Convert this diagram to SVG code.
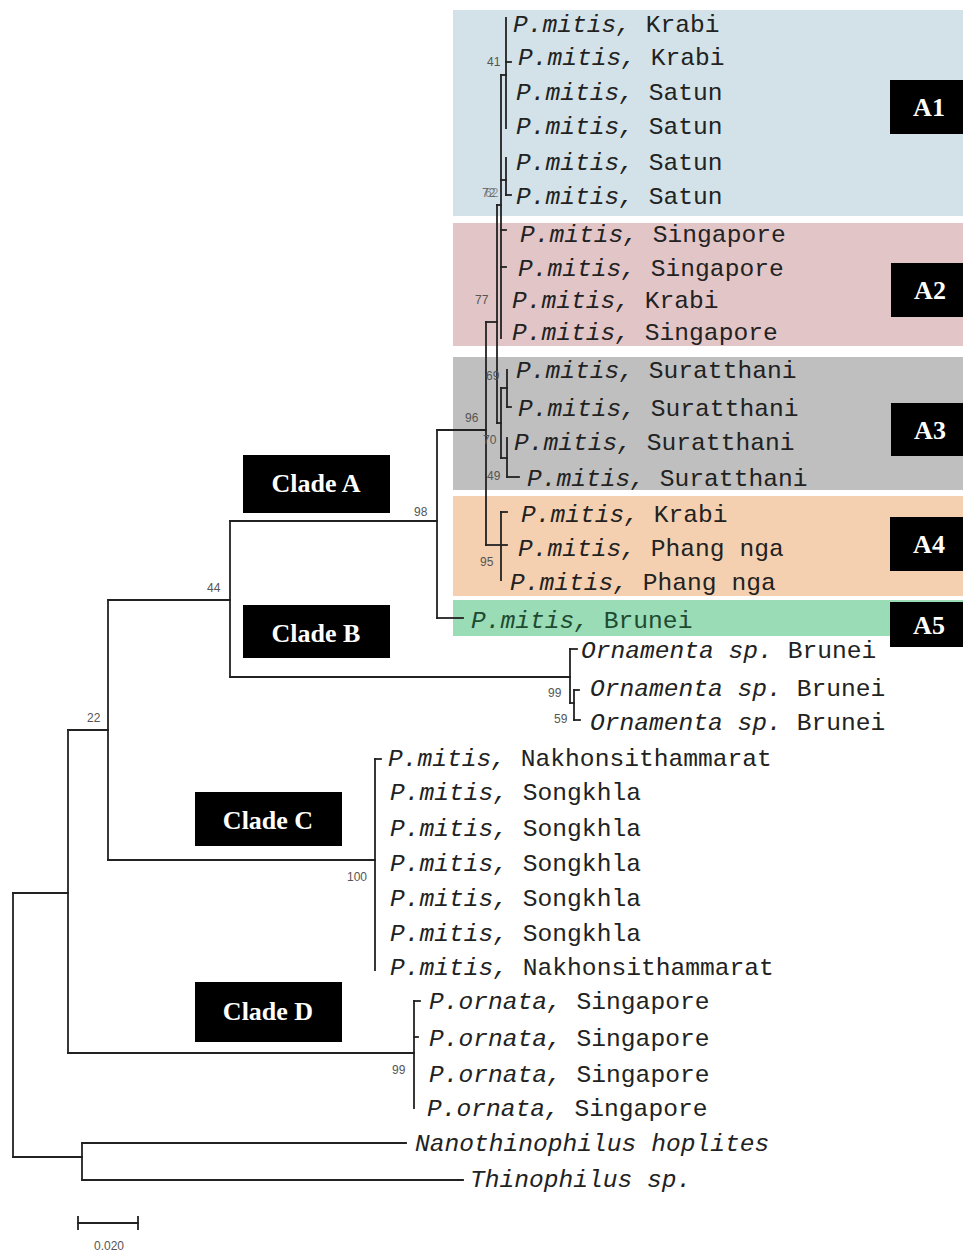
<svg xmlns="http://www.w3.org/2000/svg" width="963" height="1253" viewBox="0 0 963 1253">
  <style>
    .leaf { font-family: "Liberation Mono", "Courier New", monospace; font-size: 24.6px; fill: #222; }
    .sp { font-style: italic; }
    .boot { font-family: "Liberation Sans", Arial, sans-serif; font-size: 12px; fill: #555; }
    .tag rect { fill: #000; }
    .tag text { font-family: "Liberation Serif", "Times New Roman", serif; font-weight: bold; font-size: 26px; fill: #fff; text-anchor: middle; }
    .edges line { stroke: #222; stroke-width: 1.8; stroke-linecap: square; }
  </style>

  <rect width="963" height="1253" fill="#fff"/>

  <!-- subclade shading -->
  <g id="shading">
    <rect x="453" y="10" width="510" height="206" fill="#d2e2e8"/>
    <rect x="453" y="223" width="510" height="123" fill="#e2c5c7"/>
    <rect x="453" y="357" width="510" height="133" fill="#bfbfbf"/>
    <rect x="453" y="496" width="510" height="100" fill="#f5d0b0"/>
    <rect x="453" y="600" width="510" height="36" fill="#99dcb5"/>
  </g>

  <!-- tree branches -->
  <g id="connectors" class="edges">
    <!-- root and outgroup -->
    <line x1="13" y1="893" x2="13" y2="1157"/>
    <line x1="13" y1="893" x2="68" y2="893"/>
    <line x1="13" y1="1157" x2="82" y2="1157"/>
    <line x1="82" y1="1143" x2="82" y2="1180"/>
    <line x1="82" y1="1143" x2="406" y2="1143"/>
    <line x1="82" y1="1180" x2="463" y2="1180"/>
    <!-- node 22 -->
    <line x1="68" y1="730" x2="68" y2="1053"/>
    <line x1="68" y1="730" x2="108" y2="730"/>
    <line x1="68" y1="1053" x2="414" y2="1053"/>
    <!-- clade D -->
    <line x1="414" y1="1001" x2="414" y2="1108"/>
    <line x1="414" y1="1001" x2="420" y2="1001"/>
    <line x1="414" y1="1037" x2="418" y2="1037"/>
    <!-- node 44 -->
    <line x1="108" y1="600" x2="108" y2="860"/>
    <line x1="108" y1="600" x2="230" y2="600"/>
    <line x1="108" y1="860" x2="375" y2="860"/>
    <!-- clade C -->
    <line x1="375" y1="759" x2="375" y2="970"/>
    <line x1="375" y1="759" x2="381" y2="759"/>
    <!-- clades A / B -->
    <line x1="230" y1="521" x2="230" y2="677"/>
    <line x1="230" y1="521" x2="437" y2="521"/>
    <line x1="230" y1="677" x2="570" y2="677"/>
    <!-- clade B -->
    <line x1="570" y1="649" x2="570" y2="703"/>
    <line x1="570" y1="649" x2="577" y2="649"/>
    <line x1="570" y1="703" x2="574" y2="703"/>
    <line x1="574" y1="690" x2="574" y2="720"/>
    <line x1="574" y1="690" x2="579" y2="690"/>
    <line x1="574" y1="720" x2="580" y2="720"/>
    <!-- clade A -->
    <line x1="437" y1="430" x2="437" y2="618"/>
    <line x1="437" y1="430" x2="486" y2="430"/>
    <line x1="437" y1="618" x2="463" y2="618"/>
    <line x1="486" y1="322" x2="486" y2="545"/>
    <line x1="486" y1="322" x2="497" y2="322"/>
    <line x1="497" y1="205" x2="497" y2="423"/>
    <line x1="497" y1="205" x2="501" y2="205"/>
    <!-- A1 / A2 -->
    <line x1="501" y1="75" x2="501" y2="338"/>
    <line x1="501" y1="75" x2="506" y2="75"/>
    <line x1="506" y1="18" x2="506" y2="128"/>
    <line x1="506" y1="62" x2="511" y2="62"/>
    <line x1="501" y1="180" x2="506" y2="180"/>
    <line x1="506" y1="158" x2="506" y2="195"/>
    <line x1="506" y1="195" x2="511" y2="195"/>
    <line x1="501" y1="230" x2="506" y2="230"/>
    <line x1="501" y1="267" x2="506" y2="267"/>
    <!-- A3 -->
    <line x1="497" y1="423" x2="501" y2="423"/>
    <line x1="501" y1="388" x2="501" y2="458"/>
    <line x1="501" y1="388" x2="507" y2="388"/>
    <line x1="507" y1="370" x2="507" y2="407"/>
    <line x1="507" y1="407" x2="511" y2="407"/>
    <line x1="501" y1="458" x2="507" y2="458"/>
    <line x1="507" y1="438" x2="507" y2="477"/>
    <line x1="507" y1="477" x2="519" y2="477"/>
    <!-- A4 -->
    <line x1="486" y1="545" x2="507" y2="545"/>
    <line x1="501" y1="512" x2="501" y2="580"/>
    <line x1="501" y1="512" x2="507" y2="512"/>
    <!-- scale bar -->
    <line x1="78" y1="1223" x2="138" y2="1223"/>
    <line x1="78" y1="1217" x2="78" y2="1229"/>
    <line x1="138" y1="1217" x2="138" y2="1229"/>
  </g>

  <!-- bootstrap values -->
  <g id="support" class="boot">
    <text x="487" y="66">41</text>
    <text x="482" y="197" fill-opacity="0.8">72</text>
    <text x="485" y="197" fill-opacity="0.6">62</text>
    <text x="475" y="304">77</text>
    <text x="486" y="380">69</text>
    <text x="465" y="422">96</text>
    <text x="483" y="444">70</text>
    <text x="487" y="480">49</text>
    <text x="480" y="566">95</text>
    <text x="414" y="516">98</text>
    <text x="207" y="592">44</text>
    <text x="87" y="722">22</text>
    <text x="347" y="881">100</text>
    <text x="548" y="697">99</text>
    <text x="554" y="723">59</text>
    <text x="392" y="1074">99</text>
    <text x="109" y="1250" text-anchor="middle">0.020</text>
  </g>

  <!-- leaves -->
  <g id="leaf-01" class="leaf"><text x="513" y="32"><tspan class="sp">P.mitis,</tspan> Krabi</text></g>
  <g id="leaf-02" class="leaf"><text x="518" y="65"><tspan class="sp">P.mitis,</tspan> Krabi</text></g>
  <g id="leaf-03" class="leaf"><text x="516" y="100"><tspan class="sp">P.mitis,</tspan> Satun</text></g>
  <g id="leaf-04" class="leaf"><text x="516" y="134"><tspan class="sp">P.mitis,</tspan> Satun</text></g>
  <g id="leaf-05" class="leaf"><text x="516" y="170"><tspan class="sp">P.mitis,</tspan> Satun</text></g>
  <g id="leaf-06" class="leaf"><text x="516" y="204"><tspan class="sp">P.mitis,</tspan> Satun</text></g>
  <g id="leaf-07" class="leaf"><text x="520" y="242"><tspan class="sp">P.mitis,</tspan> Singapore</text></g>
  <g id="leaf-08" class="leaf"><text x="518" y="276"><tspan class="sp">P.mitis,</tspan> Singapore</text></g>
  <g id="leaf-09" class="leaf"><text x="512" y="308"><tspan class="sp">P.mitis,</tspan> Krabi</text></g>
  <g id="leaf-10" class="leaf"><text x="512" y="340"><tspan class="sp">P.mitis,</tspan> Singapore</text></g>
  <g id="leaf-11" class="leaf"><text x="516" y="378"><tspan class="sp">P.mitis,</tspan> Suratthani</text></g>
  <g id="leaf-12" class="leaf"><text x="518" y="416"><tspan class="sp">P.mitis,</tspan> Suratthani</text></g>
  <g id="leaf-13" class="leaf"><text x="514" y="450"><tspan class="sp">P.mitis,</tspan> Suratthani</text></g>
  <g id="leaf-14" class="leaf"><text x="527" y="486"><tspan class="sp">P.mitis,</tspan> Suratthani</text></g>
  <g id="leaf-15" class="leaf"><text x="521" y="522"><tspan class="sp">P.mitis,</tspan> Krabi</text></g>
  <g id="leaf-16" class="leaf"><text x="518" y="556"><tspan class="sp">P.mitis,</tspan> Phang nga</text></g>
  <g id="leaf-17" class="leaf"><text x="510" y="590"><tspan class="sp">P.mitis,</tspan> Phang nga</text></g>
  <g id="leaf-18" class="leaf"><text x="471" y="628" fill="#1f4a32"><tspan class="sp">P.mitis,</tspan> Brunei</text></g>
  <g id="leaf-19" class="leaf"><text x="581" y="658"><tspan class="sp">Ornamenta sp.</tspan> Brunei</text></g>
  <g id="leaf-20" class="leaf"><text x="590" y="696"><tspan class="sp">Ornamenta sp.</tspan> Brunei</text></g>
  <g id="leaf-21" class="leaf"><text x="590" y="730"><tspan class="sp">Ornamenta sp.</tspan> Brunei</text></g>
  <g id="leaf-22" class="leaf"><text x="388" y="766"><tspan class="sp">P.mitis,</tspan> Nakhonsithammarat</text></g>
  <g id="leaf-23" class="leaf"><text x="390" y="800"><tspan class="sp">P.mitis,</tspan> Songkhla</text></g>
  <g id="leaf-24" class="leaf"><text x="390" y="836"><tspan class="sp">P.mitis,</tspan> Songkhla</text></g>
  <g id="leaf-25" class="leaf"><text x="390" y="871"><tspan class="sp">P.mitis,</tspan> Songkhla</text></g>
  <g id="leaf-26" class="leaf"><text x="390" y="906"><tspan class="sp">P.mitis,</tspan> Songkhla</text></g>
  <g id="leaf-27" class="leaf"><text x="390" y="941"><tspan class="sp">P.mitis,</tspan> Songkhla</text></g>
  <g id="leaf-28" class="leaf"><text x="390" y="975"><tspan class="sp">P.mitis,</tspan> Nakhonsithammarat</text></g>
  <g id="leaf-29" class="leaf"><text x="429" y="1009"><tspan class="sp">P.ornata,</tspan> Singapore</text></g>
  <g id="leaf-30" class="leaf"><text x="429" y="1046"><tspan class="sp">P.ornata,</tspan> Singapore</text></g>
  <g id="leaf-31" class="leaf"><text x="429" y="1082"><tspan class="sp">P.ornata,</tspan> Singapore</text></g>
  <g id="leaf-32" class="leaf"><text x="427" y="1116"><tspan class="sp">P.ornata,</tspan> Singapore</text></g>
  <g id="leaf-33" class="leaf"><text x="415" y="1151" class="sp">Nanothinophilus hoplites</text></g>
  <g id="leaf-34" class="leaf"><text x="470" y="1187" class="sp">Thinophilus sp.</text></g>

  <!-- clade tags -->
  <g id="tag-clade-a" class="tag"><rect x="243" y="455" width="147" height="58"/><text x="316" y="492">Clade A</text></g>
  <g id="tag-clade-b" class="tag"><rect x="243" y="605" width="147" height="53"/><text x="316" y="642">Clade B</text></g>
  <g id="tag-clade-c" class="tag"><rect x="195" y="792" width="147" height="54"/><text x="268" y="829">Clade C</text></g>
  <g id="tag-clade-d" class="tag"><rect x="195" y="982" width="147" height="60"/><text x="268" y="1020">Clade D</text></g>
  <g id="tag-a1" class="tag"><rect x="890" y="80" width="73" height="54"/><text x="929" y="116">A1</text></g>
  <g id="tag-a2" class="tag"><rect x="891" y="263" width="72" height="54"/><text x="930" y="299">A2</text></g>
  <g id="tag-a3" class="tag"><rect x="891" y="403" width="72" height="53"/><text x="930" y="439">A3</text></g>
  <g id="tag-a4" class="tag"><rect x="890" y="517" width="73" height="54"/><text x="929" y="553">A4</text></g>
  <g id="tag-a5" class="tag"><rect x="890" y="602" width="73" height="45"/><text x="929" y="634">A5</text></g>
</svg>
